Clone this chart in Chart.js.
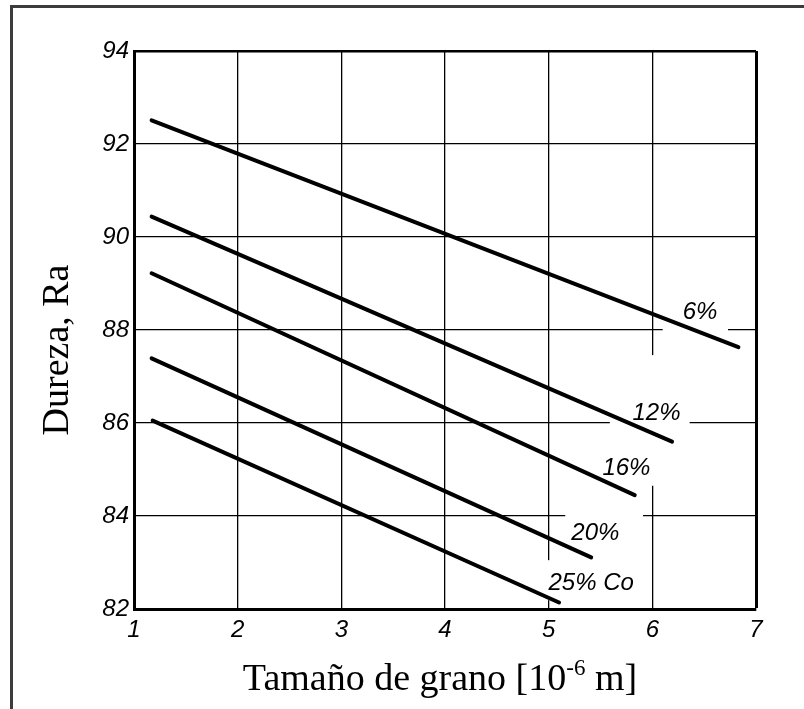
<!DOCTYPE html>
<html>
<head>
<meta charset="utf-8">
<script src="https://cdn.jsdelivr.net/npm/chart.js@4.4.1/dist/chart.umd.min.js"></script>
<style>
  html, body { margin: 0; padding: 0; background: #fff; }
  #frame {
    position: absolute; left: 10px; top: 5px; width: 820px; height: 720px;
    border-left: 3px solid #3c3c3c; border-top: 3px solid #3c3c3c;
  }
  #wrap { position: absolute; left: 0; top: 0; width: 804px; height: 709px; }
</style>
</head>
<body>
<div id="frame"></div>
<div id="wrap"><canvas id="chart" width="804" height="709"></canvas></div>
<script>
// cobalt content of each line
var coLabels = ["6%", "12%", "16%", "20%", "25% Co"];
// grain size (10^-6 m) at line start / end
var sizeStart = [1.17, 1.17, 1.17, 1.17, 1.18];
var sizeEnd = [6.83, 6.19, 5.83, 5.41, 5.10];
// hardness Ra at line start / end
var hardStart = [92.51, 90.44, 89.22, 87.39, 86.05];
var hardEnd = [87.63, 85.60, 84.45, 83.11, 82.14];

var xTicks = [1, 2, 3, 4, 5, 6, 7];
var yTicks = [82, 84, 86, 88, 90, 92, 94];

// where the curve labels sit (data units)
var labelX = [6.46, 6.04, 5.75, 5.45, 5.41];
var labelY = [88.37, 86.21, 85.03, 83.63, 82.55];

// gaps cut into the grid around the labels [x1, x2, y1, y2]
var gridGaps = [
  [6.10, 6.73, 87.9, 88.1],
  [5.59, 6.36, 85.9, 86.1],
  [5.95, 6.05, 84.65, 87.46],
  [5.16, 5.91, 83.9, 84.1],
  [4.95, 5.05, 82.19, 83.05]
];

var datasets = [];
for (var i = 0; i < coLabels.length; i++) {
  datasets.push({
    label: coLabels[i],
    data: [{ x: sizeStart[i], y: hardStart[i] }, { x: sizeEnd[i], y: hardEnd[i] }],
    borderColor: "#000",
    borderWidth: 4,
    borderCapStyle: "round",
    pointRadius: 0,
    fill: false
  });
}

var tickFont = { family: "'Liberation Sans', Arial, sans-serif", size: 24, style: "italic" };

var gapPlugin = {
  id: "gaps",
  beforeDatasetsDraw: function (chart) {
    var ctx = chart.ctx, xs = chart.scales.x, ys = chart.scales.y;
    ctx.save();
    ctx.fillStyle = "#fff";
    gridGaps.forEach(function (g) {
      var x1 = xs.getPixelForValue(g[0]), x2 = xs.getPixelForValue(g[1]);
      var y1 = ys.getPixelForValue(g[3]), y2 = ys.getPixelForValue(g[2]);
      ctx.fillRect(x1, y1, x2 - x1, y2 - y1);
    });
    ctx.restore();
  }
};

var textPlugin = {
  id: "texts",
  afterDatasetsDraw: function (chart) {
    var ctx = chart.ctx, xs = chart.scales.x, ys = chart.scales.y, a = chart.chartArea;
    ctx.save();
    // curve labels
    ctx.fillStyle = "#000";
    ctx.font = "italic 24px 'Liberation Sans', Arial, sans-serif";
    ctx.textAlign = "center";
    ctx.textBaseline = "middle";
    for (var i = 0; i < coLabels.length; i++) {
      ctx.fillText(coLabels[i], xs.getPixelForValue(labelX[i]), ys.getPixelForValue(labelY[i]));
    }

    // x axis title with superscript
    ctx.textAlign = "left";
    ctx.textBaseline = "alphabetic";
    var big = "38px 'Liberation Serif', 'Times New Roman', serif";
    var small = "23px 'Liberation Serif', 'Times New Roman', serif";
    var p1 = "Tamaño de grano [10", p2 = "-6", p3 = " m]";
    ctx.font = big;
    var w1 = ctx.measureText(p1).width, w3 = ctx.measureText(p3).width;
    ctx.font = small;
    var w2 = ctx.measureText(p2).width;
    var cx = (a.left + a.right) / 2 - 5;
    var x0 = cx - (w1 + w2 + w3) / 2;
    var base = a.bottom + 81;
    ctx.font = big;
    ctx.fillText(p1, x0, base);
    ctx.font = small;
    ctx.fillText(p2, x0 + w1, base - 15);
    ctx.font = big;
    ctx.fillText(p3, x0 + w1 + w2, base);

    // y axis title
    ctx.translate(58, (a.top + a.bottom) / 2 + 20);
    ctx.rotate(-Math.PI / 2);
    ctx.textAlign = "center";
    ctx.textBaseline = "middle";
    ctx.font = big;
    ctx.fillText("Dureza, Ra", 0, 0);
    ctx.restore();
  }
};

new Chart(document.getElementById("chart"), {
  type: "line",
  data: { datasets: datasets },
  options: {
    responsive: false,
    animation: false,
    layout: { padding: { left: 0, top: 51, right: 48, bottom: 0 } },
    plugins: { legend: { display: false }, tooltip: { enabled: false } },
    scales: {
      x: {
        type: "linear",
        min: 1, max: 7,
        afterBuildTicks: function (s) { s.ticks = xTicks.map(function (v) { return { value: v }; }); },
        afterFit: function (s) { s.height = 100; },
        grid: {
          color: "#000",
          lineWidth: function (c) { return c.tick && c.tick.value === 7 ? 3 : 1.3; },
          drawTicks: false
        },
        border: { color: "#000", width: 3 },
        ticks: { color: "#000", font: tickFont, padding: 7 }
      },
      y: {
        min: 82, max: 94,
        afterBuildTicks: function (s) { s.ticks = yTicks.map(function (v) { return { value: v }; }); },
        afterFit: function (s) { s.width = 134; },
        grid: {
          color: "#000",
          lineWidth: function (c) { return c.tick && c.tick.value === 94 ? 2.5 : 1.3; },
          drawTicks: false
        },
        border: { color: "#000", width: 3 },
        ticks: { color: "#000", font: tickFont, padding: 5 }
      }
    }
  },
  plugins: [gapPlugin, textPlugin]
});
</script>
</body>
</html>
